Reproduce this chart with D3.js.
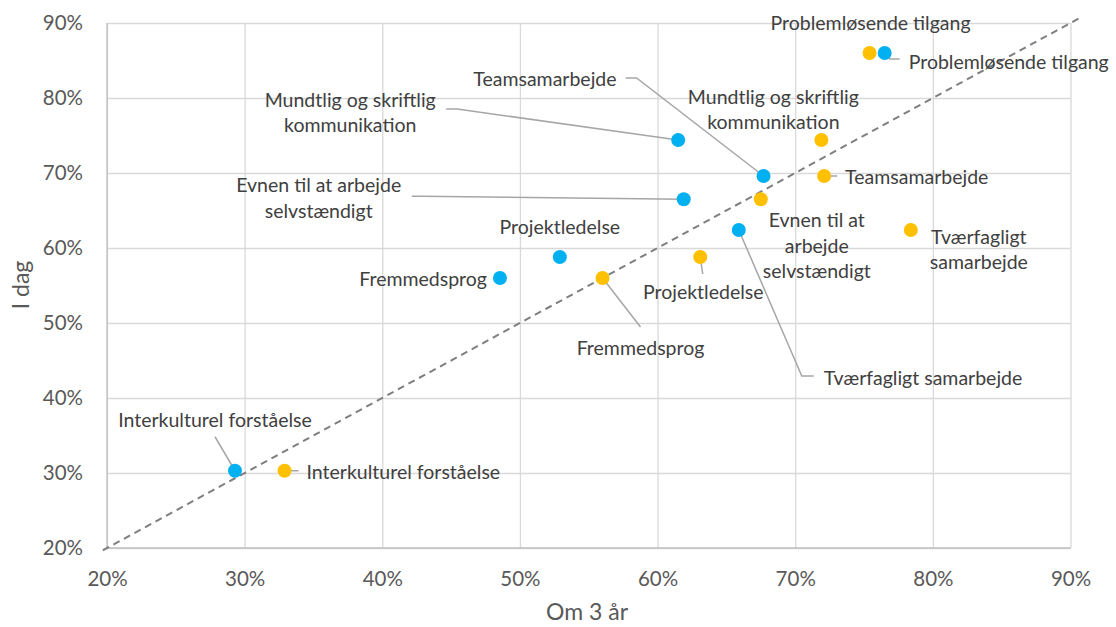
<!DOCTYPE html>
<html>
<head>
<meta charset="utf-8">
<script src="https://cdn.jsdelivr.net/npm/d3@7"></script>
<style>
  body { margin: 0; background: #fff; }
  svg { display: block; font-family: Lato, "Open Sans", sans-serif; }
</style>
</head>
<body>
<svg id="chart" width="1116" height="627"></svg>
<script>
// data
var skills = ["Problemløsende tilgang", "Mundtlig og skriftlig kommunikation", "Teamsamarbejde",
  "Evnen til at arbejde selvstændigt", "Tværfagligt samarbejde", "Projektledelse",
  "Fremmedsprog", "Interkulturel forståelse"];
var blueX   = [0.765, 0.615, 0.677, 0.619, 0.659, 0.529, 0.4855, 0.293];
var orangeX = [0.754, 0.719, 0.721, 0.675, 0.784, 0.631, 0.560, 0.329];
var iDag    = [0.860, 0.744, 0.696, 0.665, 0.624, 0.588, 0.560, 0.303];
var ticks = [0.2, 0.3, 0.4, 0.5, 0.6, 0.7, 0.8, 0.9];
var diagonal = [0.197, 0.909];

// how each label is split into lines
var blueLines = [["Problemløsende tilgang"], ["Mundtlig og skriftlig", "kommunikation"], ["Teamsamarbejde"],
  ["Evnen til at arbejde", "selvstændigt"], ["Tværfagligt samarbejde"], ["Projektledelse"],
  ["Fremmedsprog"], ["Interkulturel forståelse"]];
var orangeLines = [["Problemløsende tilgang"], ["Mundtlig og skriftlig", "kommunikation"], ["Teamsamarbejde"],
  ["Evnen til at", "arbejde", "selvstændigt"], ["Tværfagligt", "samarbejde"], ["Projektledelse"],
  ["Fremmedsprog"], ["Interkulturel forståelse"]];

// label placement, pixel offsets from the point (dx, dy of first line, anchor, leader path)
var blueLayout = [
  { dx: 24, dy: 8, anchor: "start", leader: [[0, 0], [5, 6], [15, 6]] },
  { dx: -328, dy: -41, anchor: "middle", leader: [[-232, -31], [-221, -31], [0, 0]] },
  { dx: -147, dy: -98, anchor: "end", leader: [[-138, -98], [-127, -98], [0, 0]] },
  { dx: -365, dy: -15, anchor: "middle", leader: [[-272, -3], [-262, -3], [0, 0]] },
  { dx: 85, dy: 147, anchor: "start", leader: [[0, 0], [63, 146], [75, 146]] },
  { dx: 0, dy: -31, anchor: "middle", leader: null },
  { dx: -13, dy: 0, anchor: "end", leader: null },
  { dx: -20, dy: -51, anchor: "middle", leader: [[-20, -34], [0, 0]] }
];
var orangeLayout = [
  { dx: 1, dy: -31, anchor: "middle", leader: null },
  { dx: -48, dy: -44, anchor: "middle", leader: null },
  { dx: 21, dy: 0, anchor: "start", leader: [[0, 0], [13, 0]] },
  { dx: 56, dy: 20, anchor: "middle", leader: null },
  { dx: 68, dy: 6, anchor: "middle", leader: null },
  { dx: 3, dy: 34, anchor: "middle", leader: [[0, 0], [2.5, 17]] },
  { dx: 38, dy: 69, anchor: "middle", leader: [[0, 0], [38, 49]] },
  { dx: 22, dy: 1, anchor: "start", leader: [[0, 0], [14, 0]] }
];

var svg = d3.select("#chart");
var margin = { left: 107, right: 1070.5, top: 23, bottom: 548 };

var x = d3.scaleLinear().domain([0.2, 0.9]).range([margin.left, margin.right]);
var y = d3.scaleLinear().domain([0.2, 0.9]).range([margin.bottom, margin.top]);
var pct = d3.format(".0%");
var labelSize = 19.5;
var lineGap = 25.8;

// gridlines
svg.append("g")
  .attr("transform", "translate(0," + margin.bottom + ")")
  .call(d3.axisBottom(x).tickValues(ticks).tickSize(-(margin.bottom - margin.top)).tickFormat(""))
  .call(g => g.select(".domain").remove())
  .selectAll("line").attr("stroke", "#d9d9d9").attr("stroke-width", 1.3);
svg.append("g")
  .attr("transform", "translate(" + margin.left + ",0)")
  .call(d3.axisLeft(y).tickValues(ticks).tickSize(-(margin.right - margin.left)).tickFormat(""))
  .call(g => g.select(".domain").remove())
  .selectAll("line").attr("stroke", "#d9d9d9").attr("stroke-width", 1.3);

// axis lines
svg.append("line")
  .attr("x1", margin.left).attr("x2", margin.left)
  .attr("y1", margin.top).attr("y2", margin.bottom)
  .attr("stroke", "#bfbfbf").attr("stroke-width", 1.3);
svg.append("line")
  .attr("x1", margin.left).attr("x2", margin.right)
  .attr("y1", margin.bottom).attr("y2", margin.bottom)
  .attr("stroke", "#bfbfbf").attr("stroke-width", 1.3);

// tick labels
svg.append("g")
  .attr("transform", "translate(0," + margin.bottom + ")")
  .call(d3.axisBottom(x).tickValues(ticks).tickSize(0).tickPadding(23).tickFormat(pct))
  .call(g => g.select(".domain").remove())
  .selectAll("text")
  .attr("font-family", "Lato")
  .attr("font-size", 20.5)
  .attr("fill", "#595959");
svg.append("g")
  .attr("transform", "translate(" + margin.left + ",0)")
  .call(d3.axisLeft(y).tickValues(ticks).tickSize(0).tickPadding(24).tickFormat(pct))
  .call(g => g.select(".domain").remove())
  .selectAll("text")
  .attr("font-family", "Lato")
  .attr("font-size", 20.5)
  .attr("fill", "#595959");

// axis titles
svg.append("text")
  .attr("x", 587).attr("y", 620)
  .attr("text-anchor", "middle")
  .attr("font-size", 23)
  .attr("fill", "#595959")
  .text("Om 3 år");
svg.append("text")
  .attr("transform", "translate(29,285) rotate(-90)")
  .attr("text-anchor", "middle")
  .attr("font-size", 23)
  .attr("fill", "#595959")
  .text("I dag");

// dashed diagonal
svg.append("line")
  .attr("x1", x(diagonal[0])).attr("y1", y(diagonal[0]))
  .attr("x2", x(diagonal[1])).attr("y2", y(diagonal[1]))
  .attr("stroke", "#7f7f7f")
  .attr("stroke-width", 2)
  .attr("stroke-dasharray", "7,5");

function drawSeries(xs, lines, layout, colour) {
  var pts = skills.map(function (s, i) {
    return { name: s, px: x(xs[i]), py: y(iDag[i]), lines: lines[i], lay: layout[i] };
  });

  svg.append("g").selectAll("path")
    .data(pts.filter(d => d.lay.leader))
    .enter()
    .append("path")
    .attr("d", function (d) {
      return d3.line()(d.lay.leader.map(p => [d.px + p[0], d.py + p[1]]));
    })
    .attr("fill", "none")
    .attr("stroke", "#a6a6a6")
    .attr("stroke-width", 1.5);

  svg.append("g").selectAll("circle")
    .data(pts)
    .enter()
    .append("circle")
    .attr("cx", d => d.px)
    .attr("cy", d => d.py)
    .attr("r", 7)
    .attr("fill", colour);

  var lbl = svg.append("g").selectAll("text")
    .data(pts)
    .enter()
    .append("text")
    .attr("text-anchor", d => d.lay.anchor)
    .attr("font-size", labelSize)
    .attr("fill", "#404040");
  lbl.selectAll("tspan")
    .data(d => d.lines.map((t, k) => ({ t: t, k: k, d: d })))
    .enter()
    .append("tspan")
    .attr("x", e => e.d.px + e.d.lay.dx)
    .attr("y", e => e.d.py + e.d.lay.dy + e.k * lineGap)
    .attr("dominant-baseline", "central")
    .text(e => e.t);
}

drawSeries(orangeX, orangeLines, orangeLayout, "#ffc000");
drawSeries(blueX, blueLines, blueLayout, "#00b0f0");
</script>
</body>
</html>
